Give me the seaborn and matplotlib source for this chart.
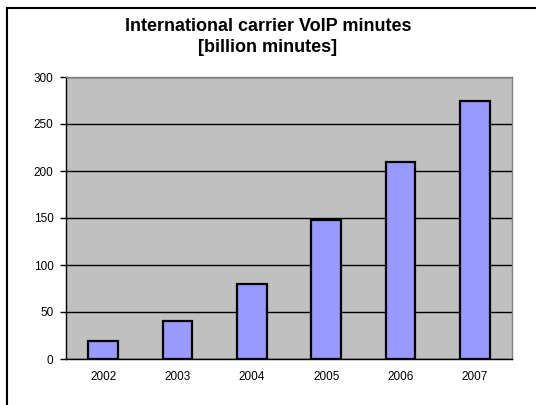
import matplotlib
matplotlib.use("Agg")
import matplotlib.pyplot as plt
import matplotlib.patches as mpatches
import seaborn as sns
import pandas as pd

years = ["2002", "2003", "2004", "2005", "2006", "2007"]
minutes = [19, 40, 80, 148, 210, 275]
y_ticks = [0, 50, 100, 150, 200, 250, 300]

sns.set_theme(style="white")
plt.rcParams["font.family"] = ["Liberation Sans", "DejaVu Sans"]
plt.rcParams["text.color"] = "black"
plt.rcParams["xtick.color"] = "black"
plt.rcParams["ytick.color"] = "black"

df = pd.DataFrame({"year": years, "minutes": minutes})

fig = plt.figure(figsize=(5.36, 4.05), dpi=100)
ax = fig.add_axes([66 / 536, 1 - 359 / 405, (512 - 66) / 536, (359 - 77) / 405])
ax.set_facecolor("#C0C0C0")

sns.barplot(data=df, x="year", y="minutes", color="#9999FF", saturation=1,
            edgecolor="black", linewidth=1.6, width=0.4, ax=ax, zorder=3)

ax.set_ylim(0, 300)
ax.set_xlim(-0.5, len(years) - 0.5)
ax.set_yticks(y_ticks)
ax.set_yticklabels([str(v) for v in y_ticks], fontsize=8.5)
ax.yaxis.grid(True, color="black", linewidth=1, zorder=1)
ax.set_axisbelow(True)
ax.set_xlabel("")
ax.set_ylabel("")

# year labels sit under each bar, ticks mark category boundaries
ax.set_xticks(range(len(years)))
ax.set_xticklabels(years, fontsize=8.5)
ax.set_xticks([i - 0.5 for i in range(len(years) + 1)], minor=True)
ax.tick_params(axis="x", which="major", length=0, pad=9)
ax.tick_params(axis="x", which="minor", length=4, width=1, color="black", direction="out")
ax.tick_params(axis="y", length=4, width=1, color="black", direction="out", pad=5, left=True)

for side in ("left", "bottom"):
    ax.spines[side].set_color("black")
    ax.spines[side].set_linewidth(1)
for side in ("top", "right"):
    ax.spines[side].set_color("#808080")
    ax.spines[side].set_linewidth(1)

fig.text(0.5, 1 - 37 / 405, "International carrier VoIP minutes\n[billion minutes]",
         ha="center", va="center", fontsize=13, fontweight="bold", linespacing=1.35,
         color="black")

# chart frame
frame = mpatches.Rectangle((7 / 536, -0.1), 1.2, 1 - 8 / 405 + 0.1,
                           transform=fig.transFigure, fill=False,
                           edgecolor="black", linewidth=1.5, clip_on=False)
fig.patches.append(frame)

fig.savefig("out.png", dpi=100, facecolor="white")
